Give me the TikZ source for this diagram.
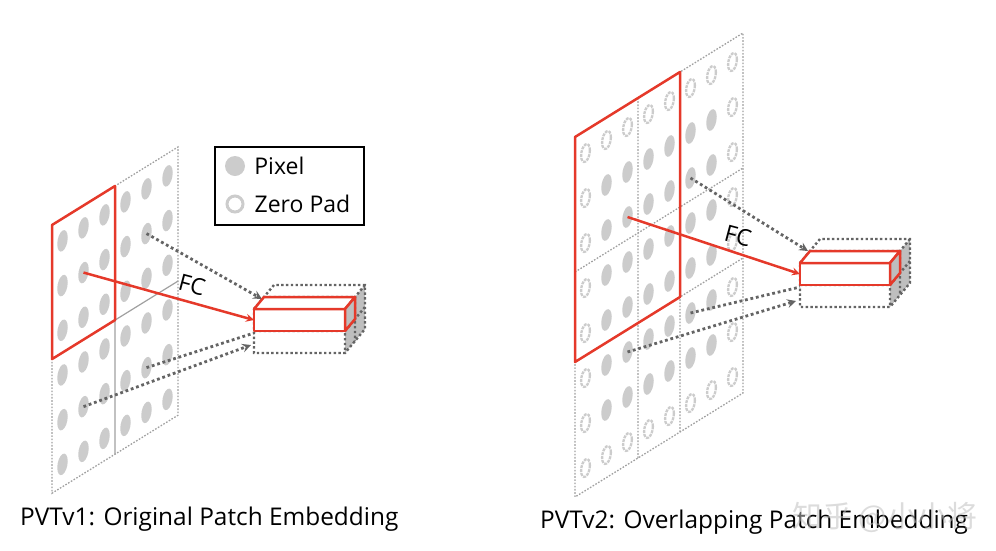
\documentclass[tikz,border=0pt]{standalone}
\usepackage{fontspec}
\setmainfont{Open Sans}
\newfontfamily\cjkfont{Noto Sans CJK SC}
\usetikzlibrary{positioning}

\definecolor{fcred}{RGB}{229,57,42}
\definecolor{pixgray}{RGB}{204,204,204}
\definecolor{sidegray}{RGB}{190,190,190}
\definecolor{dotgray}{RGB}{100,100,100}
\definecolor{gridgray}{RGB}{160,160,160}

\tikzset{
  gridline/.style={gridgray, line width=1.3pt, dash pattern=on 1.6pt off 1.6pt},
  pixel/.style={fill=pixgray},
  zeropad/.style={draw=pixgray, line width=2.3pt, dash pattern=on 3pt off 1pt},
  patchbox/.style={fcred, line width=2.5pt, line join=round},
  fcarrow/.style={->, fcred, line width=2.5pt},
  maparrow/.style={dotgray, line width=2.8pt, dash pattern=on 2.8pt off 2.8pt},
  stackline/.style={dotgray, line width=2.4pt, dash pattern=on 2.4pt off 2.4pt},
  tokenbox/.style={fcred, line width=2.5pt, fill=white, line join=round},
  fclabel/.style={font=\fontsize{23}{26}\selectfont, inner sep=0pt},
  legendtext/.style={font=\fontsize{23}{26}\selectfont, inner sep=0pt},
  caption/.style={font=\fontsize{24.4}{28}\selectfont, inner sep=0pt},
  watermark/.style={font=\cjkfont\fontsize{30}{32}\selectfont, text=gray!50, opacity=0.55, inner sep=0pt},
}

\begin{document}
\begin{tikzpicture}[>=stealth, x=1pt, y=-1pt]
\useasboundingbox (0,0) rectangle (996,550);

%------------------ LEFT PANEL (PVTv1) ------------------%
\begin{scope}[shift={(52,225)}, x={(21pt,13pt)}, y={(0pt,-44.7pt)}]
  \foreach \i in {0,...,5}
    \foreach \j in {0,...,5}
      \fill[pixel] (\i+0.5,\j+0.5) circle[x radius=0.25, y radius=0.23];
  \draw[gridline] (0,0) -- (6,0) -- (6,6) -- (0,6) -- cycle;
  \draw[gridgray, line width=1.2pt] (3,0) -- (3,6) (0,3) -- (6,3);
  \draw[patchbox] (0,0) -- (3,0) -- (3,3) -- (0,3) -- cycle;

  \coordinate (TLa) at (1.5,1.5);
  \coordinate (TRa) at (4.5,1.5);
  \coordinate (BLa) at (1.5,4.5);
  \coordinate (BRa) at (4.5,4.5);
\end{scope}

% token stack
\begin{scope}[shift={(254,309)}]
  \fill[sidegray] (91,0) -- (111,-24) -- (111,20) -- (91,44) -- cycle;
  \draw[stackline] (0,0) -- (91,0) -- (91,44) -- (0,44) -- cycle
    (0,22) -- (91,22)
    (0,0) -- (20,-24) -- (111,-24) -- (111,20) -- (91,44)
    (91,0) -- (111,-24)
    (10,-12) -- (101,-12) -- (101,32)
    (91,22) -- (111,-2);

  \coordinate (TLendA) at (0,11);
  \coordinate (TRendA) at (8,-10);
  \coordinate (BLendA) at (-3,36);
  \coordinate (BRendA) at (0,24);
\end{scope}

\draw[maparrow, ->] (TRa) -- (TRendA);
\draw[maparrow] (BRa) -- (BRendA);
\draw[maparrow, ->] (BLa) -- (BLendA);

\begin{scope}[shift={(254,309)}]
  \filldraw[tokenbox] (0,0) -- (91,0) -- (91,22) -- (0,22) -- cycle;
  \filldraw[tokenbox] (0,0) -- (10,-12) -- (101,-12) -- (91,0) -- cycle;
  \filldraw[tokenbox, fill=sidegray] (91,0) -- (101,-12) -- (101,10) -- (91,22) -- cycle;
\end{scope}

\draw[fcarrow] (TLa) -- (TLendA);
\node[fclabel, rotate=-15] (fcA) at (192,285) {FC};

% legend
\node[draw, line width=2.5pt, minimum width=149pt, minimum height=78pt, inner sep=0pt] (legend) at (289.5,186) {};
\node[circle, fill=pixgray, minimum size=20pt, inner sep=0pt] (pixdot) at (235,166) {};
\node[circle, draw=pixgray, line width=3pt, minimum size=16pt, inner sep=0pt] (paddot) at (235,204) {};
\node[legendtext, right=9pt of pixdot] (pixtxt) {Pixel};
\node[legendtext, right=10pt of paddot] (padtxt) {Zero Pad};

\node[caption, anchor=base west] (capA) at (20,525) {PVTv1: Original Patch Embedding};

%------------------ RIGHT PANEL (PVTv2) ------------------%
\begin{scope}[shift={(575,137)}, x={(21pt,13pt)}, y={(0pt,-45pt)}]
  \foreach \i in {0,...,7}
    \foreach \j in {0,...,7} {
      \pgfmathtruncatemacro{\edge}{(\i==0)||(\i==7)||(\j==0)||(\j==7)}
      \ifnum\edge=1
        \draw[zeropad] (\i+0.5,\j+0.5) circle[x radius=0.21, y radius=0.19];
      \else
        \fill[pixel] (\i+0.5,\j+0.5) circle[x radius=0.25, y radius=0.23];
      \fi
    }
  \draw[gridline] (0,0) -- (8,0) -- (8,8) -- (0,8) -- cycle;
  \draw[gridline] (3,0) -- (3,8) (5,0) -- (5,8) (0,3) -- (8,3) (0,5) -- (8,5);
  \draw[patchbox] (0,0) -- (5,0) -- (5,5) -- (0,5) -- cycle;

  \coordinate (TLb) at (2.5,2.5);
  \coordinate (TRb) at (5.5,2.5);
  \coordinate (BLb) at (2.5,5.5);
  \coordinate (BRb) at (5.5,5.5);
\end{scope}

% token stack
\begin{scope}[shift={(800,263)}]
  \fill[sidegray] (90,0) -- (110,-24) -- (110,20) -- (90,44) -- cycle;
  \draw[stackline] (0,0) -- (90,0) -- (90,44) -- (0,44) -- cycle
    (0,22) -- (90,22)
    (0,0) -- (20,-24) -- (110,-24) -- (110,20) -- (90,44)
    (90,0) -- (110,-24)
    (10,-12) -- (100,-12) -- (100,32)
    (90,22) -- (110,-2);

  \coordinate (TLendB) at (0,11);
  \coordinate (TRendB) at (8,-12);
  \coordinate (BLendB) at (-4,38);
  \coordinate (BRendB) at (0,24);
\end{scope}

\draw[maparrow, ->] (TRb) -- (TRendB);
\draw[maparrow] (BRb) -- (BRendB);
\draw[maparrow, ->] (BLb) -- (BLendB);

\begin{scope}[shift={(800,263)}]
  \filldraw[tokenbox] (0,0) -- (90,0) -- (90,22) -- (0,22) -- cycle;
  \filldraw[tokenbox] (0,0) -- (10,-12) -- (100,-12) -- (90,0) -- cycle;
  \filldraw[tokenbox, fill=sidegray] (90,0) -- (100,-12) -- (100,10) -- (90,22) -- cycle;
\end{scope}

\draw[fcarrow] (TLb) -- (TLendB);
\node[fclabel, rotate=-15] (fcB) at (738,236) {FC};

\node[caption, anchor=base west] (capB) at (540,528) {PVTv2: Overlapping Patch Embedding};
\node[watermark, anchor=base west] (mark) at (792,527) {知乎 @小小将};

\end{tikzpicture}
\end{document}
